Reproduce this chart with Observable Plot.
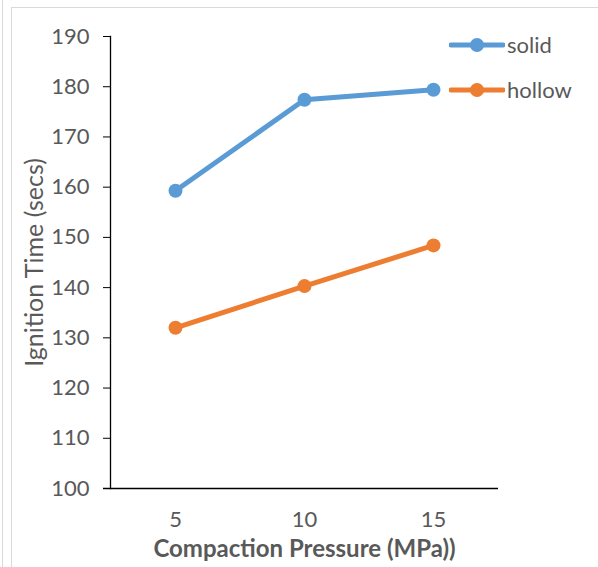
<!DOCTYPE html>
<html>
<head>
<meta charset="utf-8">
<script src="https://cdn.jsdelivr.net/npm/d3@7"></script>
<script src="https://cdn.jsdelivr.net/npm/@observablehq/plot@0.6"></script>
<style>
  html, body { margin: 0; padding: 0; background: #fff; }
  #wrap { position: relative; width: 598px; height: 567px; overflow: hidden; font-family: Lato, "Open Sans", sans-serif; }
  .bl { position: absolute; background: #d9d9d9; }
  #legend { position: absolute; left: 449px; top: 22px; font-size: 22px; color: #595959; }
  #legend .item { display: flex; align-items: center; height: 45px; }
  #legend svg { margin-right: 2px; }
</style>
</head>
<body>
<div id="wrap">
  <div class="bl" style="left:2px;top:0;width:1px;height:567px"></div>
  <div class="bl" style="left:11px;top:7px;width:1px;height:560px"></div>
  <div class="bl" style="left:11px;top:7px;width:587px;height:1px"></div>
  <div id="chart"></div>
  <div id="legend"></div>
</div>
<script>
const pressures = [5, 10, 15];
const seriesNames = ["solid", "hollow"];
const solidValues = [159.3, 177.4, 179.4];
const hollowValues = [132.0, 140.3, 148.4];
const yTicks = [100, 110, 120, 130, 140, 150, 160, 170, 180, 190];
const colors = ["#5B9BD5", "#ED7D31"];

const data = [];
pressures.forEach((p, i) => {
  data.push({pressure: p, value: solidValues[i], series: "solid"});
  data.push({pressure: p, value: hollowValues[i], series: "hollow"});
});

const chart = Plot.plot({
  width: 598,
  height: 567,
  marginLeft: 110,
  marginRight: 100,
  marginTop: 36,
  marginBottom: 79,
  style: {fontFamily: "Lato, 'Open Sans', sans-serif", fontSize: "22px", background: "transparent", overflow: "visible"},
  x: {type: "point", domain: pressures, padding: 0.5},
  y: {domain: [100, 190]},
  color: {domain: seriesNames, range: colors},
  marks: [
    Plot.axisY({ticks: yTicks, tickSize: 7, tickPadding: 14, fontSize: 22, color: "#595959", stroke: "black", strokeOpacity: 1, label: null}),
    Plot.axisX({tickSize: 0, tickPadding: 23, fontSize: 22, color: "#595959", label: null}),
    Plot.frame({anchor: "left", stroke: "black", strokeWidth: 1.3}),
    Plot.ruleY([100], {stroke: "black", strokeWidth: 1.3, insetLeft: -7}),
    Plot.line(data, {x: "pressure", y: "value", stroke: "series", strokeWidth: 5, z: "series"}),
    Plot.dot(data, {x: "pressure", y: "value", fill: "series", r: 7}),
    Plot.text(["Ignition Time (secs)"], {frameAnchor: "left", textAnchor: "middle", dx: -76, rotate: -90, fontSize: 25, fill: "#595959", text: d => d}),
    Plot.text(["Compaction Pressure (MPa))"], {frameAnchor: "bottom", dy: 68, fontSize: 24, fontWeight: "bold", fill: "#595959", text: d => d})
  ]
});
document.getElementById("chart").appendChild(chart);

const legend = document.getElementById("legend");
seriesNames.forEach((name, i) => {
  const item = document.createElement("div");
  item.className = "item";
  item.innerHTML = `<svg width="56" height="16"><line x1="2" y1="8" x2="54" y2="8" stroke="${colors[i]}" stroke-width="5" stroke-linecap="round"/><circle cx="28" cy="8" r="7" fill="${colors[i]}"/></svg><span>${name}</span>`;
  legend.appendChild(item);
});
</script>
</body>
</html>
